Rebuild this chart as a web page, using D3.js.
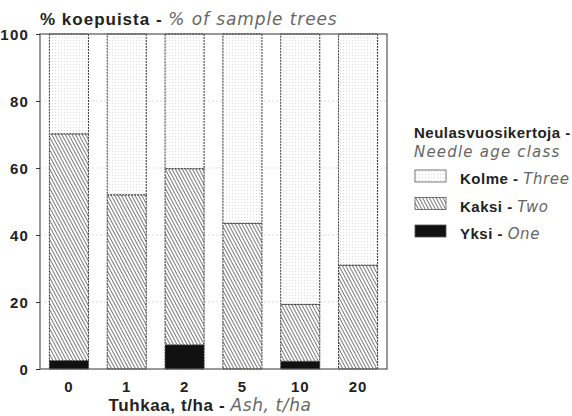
<!DOCTYPE html>
<html>
<head>
<meta charset="utf-8">
<script src="https://cdn.jsdelivr.net/npm/d3@7"></script>
<style>
  body { margin: 0; background: #fff; }
  svg { display: block; }
  .b { font-family: "Liberation Sans", Arial, sans-serif; font-weight: bold; fill: #222; }
  .i { font-family: "DejaVu Sans", sans-serif; font-style: italic; font-weight: 200; fill: #666; }
</style>
</head>
<body>
<svg id="chart" width="572" height="416"></svg>
<script>
// Ash dose classes (t/ha)
const categories = ["0", "1", "2", "5", "10", "20"];
// Share of sample trees (%) by needle age class count
const yksi  = [2.5, 0, 7.2, 0, 2.3, 0];       // one
const kaksi = [67.7, 52, 52.6, 43.5, 17, 31];  // two
const kolme = [29.8, 48, 40.2, 56.5, 80.7, 69]; // three
const yTicks = [0, 20, 40, 60, 80, 100];

const svg = d3.select("#chart");
const m = { left: 40, right: 387, top: 34, bottom: 369 };

const x = d3.scaleBand().domain(categories).range([m.left, m.right])
  .paddingInner(0.325).paddingOuter(0.1625);
const y = d3.scaleLinear().domain([0, 100]).range([m.bottom, m.top]);

// fill patterns
const defs = svg.append("defs");
const dots = defs.append("pattern").attr("id", "dots").attr("patternUnits", "userSpaceOnUse")
  .attr("width", 3).attr("height", 3);
dots.append("rect").attr("width", 3).attr("height", 3).attr("fill", "#fff");
dots.append("rect").attr("x", 1).attr("y", 1).attr("width", 1).attr("height", 1).attr("fill", "#dadada");

const hatch = defs.append("pattern").attr("id", "hatch").attr("patternUnits", "userSpaceOnUse")
  .attr("width", 3).attr("height", 3).attr("patternTransform", "rotate(-28)");
hatch.append("rect").attr("width", 3).attr("height", 3).attr("fill", "#fff");
hatch.append("line").attr("x1", 0).attr("y1", 0).attr("x2", 0).attr("y2", 3)
  .attr("stroke", "#3a3a3a").attr("stroke-width", 1.35);

const fills = { kolme: "url(#dots)", kaksi: "url(#hatch)", yksi: "#111" };

// faint grid
svg.append("g").selectAll("line").data(yTicks.slice(1, -1)).join("line")
  .attr("x1", m.left).attr("x2", m.right)
  .attr("y1", d => y(d)).attr("y2", d => y(d))
  .attr("stroke", "#d0d0d0").attr("stroke-width", 0.8).attr("stroke-dasharray", "2,2");

// stacked bars
const rows = categories.map((c, i) => ({ cat: c, yksi: yksi[i], kaksi: kaksi[i], kolme: kolme[i] }));
const stack = d3.stack().keys(["yksi", "kaksi", "kolme"])(rows);

const layers = svg.append("g").selectAll("g").data(stack).join("g")
  .attr("fill", d => fills[d.key]);
layers.selectAll("rect").data(d => d.filter(p => p[1] - p[0] > 0)).join("rect")
  .attr("x", d => x(d.data.cat))
  .attr("width", x.bandwidth())
  .attr("y", d => y(d[1]))
  .attr("height", d => y(d[0]) - y(d[1]))
  .attr("stroke", "#333").attr("stroke-width", 1).attr("stroke-dasharray", "2,1");

// frame
svg.append("rect").attr("x", m.left).attr("y", m.top)
  .attr("width", m.right - m.left).attr("height", m.bottom - m.top)
  .attr("fill", "none").attr("stroke", "#555").attr("stroke-width", 1.2);

// y axis
const yAxis = svg.append("g").attr("transform", `translate(${m.left},0)`)
  .call(d3.axisLeft(y).tickValues(yTicks).tickSize(4).tickPadding(7));
yAxis.select(".domain").remove();
yAxis.selectAll("line").attr("stroke", "#333");
yAxis.selectAll("text").attr("class", "b").style("font-size", "15px")
  .style("letter-spacing", "1.2px").attr("dy", "0.36em");

// x axis labels
const xAxis = svg.append("g").attr("transform", `translate(0,${m.bottom})`)
  .call(d3.axisBottom(x).tickSize(0).tickPadding(12));
xAxis.select(".domain").remove();
xAxis.selectAll("text").attr("class", "b").style("font-size", "15px").style("letter-spacing", "1px");

// titles
const t1 = svg.append("text").attr("x", 40).attr("y", 25).style("font-size", "17px");
t1.append("tspan").attr("class", "b").style("letter-spacing", "1px").text("% koepuista - ");
t1.append("tspan").attr("class", "i").style("letter-spacing", "0.9px").text("% of sample trees");

const t2 = svg.append("text").attr("x", 210).attr("y", 411).attr("text-anchor", "middle").style("font-size", "17px");
t2.append("tspan").attr("class", "b").style("letter-spacing", "0.6px").text("Tuhkaa, t/ha - ");
t2.append("tspan").attr("class", "i").style("letter-spacing", "0.6px").text("Ash, t/ha");

// legend
const lg = svg.append("g");
lg.append("text").attr("class", "b").attr("x", 414).attr("y", 138).style("font-size", "15px")
  .style("letter-spacing", "0.5px").text("Neulasvuosikertoja -");
lg.append("text").attr("class", "i").attr("x", 414).attr("y", 157).style("font-size", "15px")
  .style("letter-spacing", "1.2px").text("Needle age class");

const legendItems = [
  { key: "kolme", fi: "Kolme", en: "Three" },
  { key: "kaksi", fi: "Kaksi", en: "Two" },
  { key: "yksi", fi: "Yksi", en: "One" }
];
const li = lg.selectAll(".item").data(legendItems).join("g")
  .attr("transform", (d, i) => `translate(415,${170 + i * 27.5})`);
li.append("rect").attr("width", 31).attr("height", 12)
  .attr("fill", d => fills[d.key]).attr("stroke", "#555").attr("stroke-width", 0.8);
const lt = li.append("text").attr("x", 45).attr("y", 14).style("font-size", "15px");
lt.append("tspan").attr("class", "b").style("letter-spacing", "0.5px").text(d => d.fi + " - ");
lt.append("tspan").attr("class", "i").style("letter-spacing", "0.6px").text(d => d.en);
</script>
</body>
</html>
